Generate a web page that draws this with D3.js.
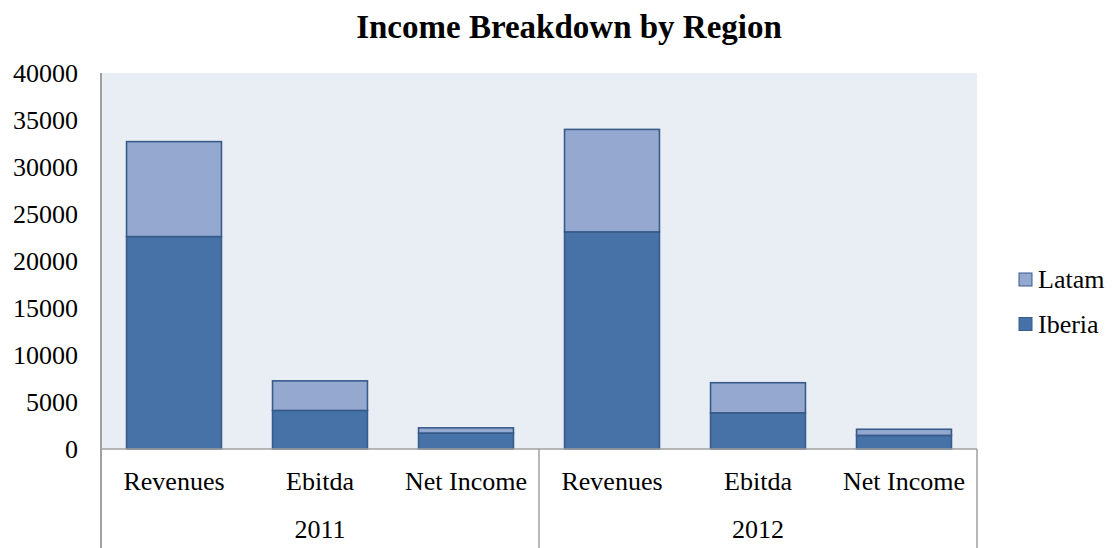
<!DOCTYPE html>
<html>
<head>
<meta charset="utf-8">
<script src="https://cdn.jsdelivr.net/npm/d3@7"></script>
<style>
  body { margin: 0; background: #fff; }
  svg text { font-family: "Liberation Serif", "Times New Roman", serif; fill: #000; }
</style>
</head>
<body>
<svg id="chart" width="1113" height="548"></svg>
<script>
const years = ["2011", "2012"];
const metrics = ["Revenues", "Ebitda", "Net Income"];
const seriesNames = ["Iberia", "Latam"];
const iberia = [22600, 4100, 1700, 23100, 3850, 1450];
const latam = [10100, 3150, 550, 10900, 3200, 650];
const yTicks = [0, 5000, 10000, 15000, 20000, 25000, 30000, 35000, 40000];

const colors = { Iberia: "#4672A7", Latam: "#95A9D0" };
const strokeCol = "#385C8A";

const svg = d3.select("#chart");
const plotL = 101, plotR = 977, plotT = 73, plotB = 449;

// Build rows
const rows = [];
years.forEach((yr, gi) => {
  metrics.forEach((m, mi) => {
    const i = gi * metrics.length + mi;
    rows.push({ key: yr + "|" + m, year: yr, metric: m, Iberia: iberia[i], Latam: latam[i] });
  });
});

const x = d3.scaleBand()
  .domain(rows.map(r => r.key))
  .range([plotL, plotR])
  .paddingInner(0.35)
  .paddingOuter(0.175);

const xGroup = d3.scaleBand().domain(years).range([plotL, plotR]);

const y = d3.scaleLinear().domain([0, 40000]).range([plotB, plotT]);

// Plot background
svg.append("rect")
  .attr("x", plotL).attr("y", plotT)
  .attr("width", plotR - plotL).attr("height", plotB - plotT)
  .attr("fill", "#E9EDF4");

// Title
svg.append("text")
  .attr("x", 569).attr("y", 38)
  .attr("text-anchor", "middle")
  .style("font-size", "33px")
  .style("font-weight", "bold")
  .text("Income Breakdown by Region");

// Stack
const stack = d3.stack().keys(seriesNames);
const stacked = stack(rows);

svg.append("g").selectAll("g")
  .data(stacked)
  .join("g")
  .attr("fill", d => colors[d.key])
  .selectAll("rect")
  .data(d => d)
  .join("rect")
  .attr("x", d => x(d.data.key))
  .attr("width", x.bandwidth())
  .attr("y", d => y(d[1]))
  .attr("height", d => y(d[0]) - y(d[1]))
  .attr("stroke", strokeCol)
  .attr("stroke-width", 1.6);

// Y axis
const yAxis = d3.axisLeft(y).tickValues(yTicks).tickSize(0).tickPadding(23).tickFormat(d3.format("d"));
const yg = svg.append("g").attr("transform", `translate(${plotL},0)`).call(yAxis);
yg.select(".domain").remove();
yg.selectAll("text").style("font-size", "26px").attr("dy", "0.34em");

// Axis lines
const axisCol = "#A0A0A0";
svg.append("line")
  .attr("x1", plotL).attr("x2", plotL).attr("y1", plotT).attr("y2", 548)
  .attr("stroke", axisCol).attr("stroke-width", 2);
svg.append("line")
  .attr("x1", plotL).attr("x2", plotR).attr("y1", plotB).attr("y2", plotB)
  .attr("stroke", axisCol).attr("stroke-width", 1.5);

// Group separators
const seps = years.map(yr => xGroup(yr) + xGroup.bandwidth());
svg.append("g").selectAll("line")
  .data(seps)
  .join("line")
  .attr("x1", d => d).attr("x2", d => d)
  .attr("y1", plotB).attr("y2", 548)
  .attr("stroke", axisCol).attr("stroke-width", 1.5);

// Category labels
svg.append("g").selectAll("text")
  .data(rows)
  .join("text")
  .attr("x", d => x(d.key) + x.bandwidth() / 2)
  .attr("y", 490)
  .attr("text-anchor", "middle")
  .style("font-size", "26px")
  .text(d => d.metric);

// Year labels
svg.append("g").selectAll("text")
  .data(years)
  .join("text")
  .attr("x", d => xGroup(d) + xGroup.bandwidth() / 2)
  .attr("y", 538)
  .attr("text-anchor", "middle")
  .style("font-size", "26px")
  .text(d => d);

// Legend
const legendItems = ["Latam", "Iberia"];
const lg = svg.append("g").selectAll("g")
  .data(legendItems)
  .join("g")
  .attr("transform", (d, i) => `translate(1019, ${273 + i * 44.5})`);
lg.append("rect")
  .attr("width", 13).attr("height", 13)
  .attr("fill", d => colors[d])
  .attr("stroke", strokeCol).attr("stroke-width", 1);
lg.append("text")
  .attr("x", 19).attr("y", 15)
  .style("font-size", "26px")
  .text(d => d);
</script>
</body>
</html>
